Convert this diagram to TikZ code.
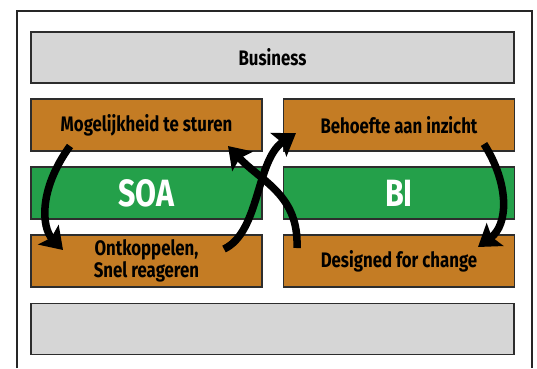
\documentclass[tikz,border=0pt]{standalone}
\usepackage{fontspec}
\setmainfont{Fira Sans}[FakeStretch=0.8]
\usetikzlibrary{arrows.meta}
\definecolor{layerGrey}{RGB}{214,214,214}
\definecolor{layerOrange}{RGB}{196,124,36}
\definecolor{layerGreen}{RGB}{36,160,74}
\definecolor{layerLine}{RGB}{45,45,45}
\begin{document}
\begin{tikzpicture}[x=1pt,y=-1pt,
    soaFrame/.style={draw=black!85,line width=1.3pt},
    soaLayer/.style={draw=layerLine,line width=1.2pt,rectangle,inner sep=0pt,
      font=\bfseries\fontsize{21}{20}\selectfont,align=center},
    soaGrey/.style={soaLayer,fill=layerGrey,minimum width=483pt,minimum height=51pt},
    soaOrange/.style={soaLayer,fill=layerOrange,minimum width=231pt,minimum height=52pt},
    soaGreen/.style={soaLayer,fill=layerGreen,minimum width=231pt,minimum height=52pt,
      text=white,font=\bfseries\fontsize{38}{40}\selectfont},
    soaArrow/.style={line width=7.5pt,-{Stealth[length=21pt,width=28pt,inset=4pt]}},
]
\useasboundingbox (0,0) rectangle (537,368);
% Frame
\draw[soaFrame] (17,368) -- (17,11) -- (532,11) -- (532,368);
% Layers
\node[soaGrey] (business) at (272.5,57.5) {Business};
\node[soaOrange] (sturen) at (146.5,125) {Mogelijkheid te sturen};
\node[soaOrange] (inzicht) at (399,125) {Behoefte aan inzicht};
\node[soaGreen] (soa) at (146.5,193) {SOA};
\node[soaGreen] (bi) at (399,193) {BI};
\node[soaOrange] (ontkoppel) at (146.5,261) {Ontkoppelen,\\Snel reageren};
\node[soaOrange] (change) at (399,261) {Designed for change};
\node[soaGrey] (basis) at (272.5,329) {};
% Arrow ends
\coordinate (sturenOut) at (70,146);
\coordinate (ontkoppelIn) at (63,250);
\coordinate (inzichtOut) at (484,144);
\coordinate (changeIn) at (478,247);
\coordinate (ontkoppelOut) at (224,249);
\coordinate (inzichtIn) at (296,133);
\coordinate (changeOut) at (297,248);
\coordinate (sturenIn) at (228,146);
% Cycles
\draw[soaArrow] (sturenOut) .. controls (38,190) and (42,228) .. (ontkoppelIn);
\draw[soaArrow] (inzichtOut) .. controls (510,185) and (508,225) .. (changeIn);
\draw[soaArrow] (changeOut) .. controls (299,195) and (262,182) .. (sturenIn);
\draw[soaArrow] (ontkoppelOut) .. controls (260,232) and (256,160) .. (inzichtIn);
\end{tikzpicture}
\end{document}
